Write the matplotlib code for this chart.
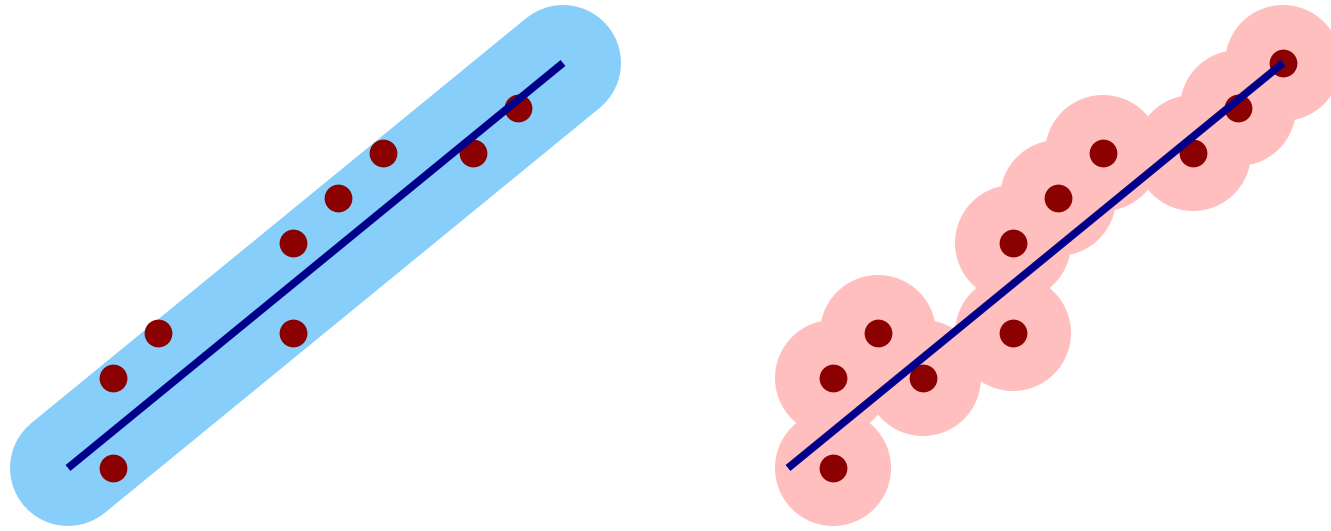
import matplotlib
matplotlib.use("Agg")
import matplotlib.pyplot as plt
from matplotlib.patches import Circle

# points in each panel
left_x = [1, 1, 2, 5, 5, 6, 7, 9, 10]
left_y = [1, 3, 4, 4, 6, 7, 8, 8, 9]
right_x = [1, 1, 2, 3, 5, 5, 6, 7, 9, 10, 11]
right_y = [1, 3, 4, 3, 4, 6, 7, 8, 8, 9, 10]
# fitted line, same in both panels
line_x = [0, 11]
line_y = [1, 10]

BAND = "#87cefa"
PINK = "#ffbfbf"
DOT = "#8b0000"
LINE = "#00008b"
rad = 58 / 45.0  # radius of the tube / balls in data units

fig = plt.figure(figsize=(13.31, 5.31), dpi=100)
W, H = 1331, 531
ylim = (-63 / 45.0 + 1, 468 / 45.0 + 1)

ax1 = fig.add_axes([0, 0, 665 / W, 1])
ax1.set_xlim((0 - 68) / 45.0, (665 - 68) / 45.0)
ax1.set_ylim(*ylim)
ax1.plot(line_x, line_y, color=BAND, lw=rad * 2 * 45 * 0.72, solid_capstyle="round", zorder=1)
ax1.plot(line_x, line_y, color=LINE, lw=5.5, solid_capstyle="butt", zorder=3)
ax1.plot(left_x, left_y, "o", color=DOT, ms=20, mec="none", zorder=2)
ax1.axis("off")

ax2 = fig.add_axes([665 / W, 0, 1 - 665 / W, 1])
ax2.set_xlim((665 - 788) / 45.0, (W - 788) / 45.0)
ax2.set_ylim(*ylim)
for x, y in zip(right_x, right_y):
    ax2.add_patch(Circle((x, y), rad, color=PINK, ec="none", zorder=1))
ax2.plot(line_x, line_y, color=LINE, lw=5.5, solid_capstyle="butt", zorder=3)
ax2.plot(right_x, right_y, "o", color=DOT, ms=20, mec="none", zorder=2)
ax2.axis("off")

fig.savefig("out.png", dpi=100)
